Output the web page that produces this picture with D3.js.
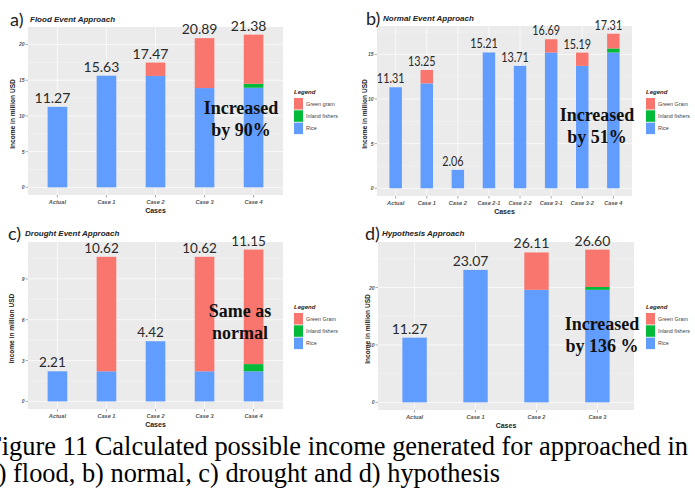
<!DOCTYPE html>
<html>
<head>
<meta charset="utf-8">
<script src="https://cdn.jsdelivr.net/npm/d3@7"></script>
<style>
body { margin: 0; background: #fff; }
svg { display: block; }
</style>
</head>
<body>
<div id="chart"></div>
<script>
(function () {

// ---- data ----
var layers = ['Rice', 'Inland fishers', 'Green gram'];

var floodCases = ['Actual', 'Case 1', 'Case 2', 'Case 3', 'Case 4'];
var floodRice  = [11.27, 15.63, 15.60, 13.90, 13.95];
var floodFish  = [0, 0, 0, 0, 0.55];
var floodGram  = [0, 0, 1.87, 6.99, 6.88];
var floodTicks = [0, 5, 10, 15, 20];

var normalCases = ['Actual', 'Case 1', 'Case 2', 'Case 2-1', 'Case 2-2', 'Case 3-1', 'Case 3-2', 'Case 4'];
var normalRice  = [11.31, 11.75, 2.06, 15.21, 13.71, 15.21, 13.71, 15.21];
var normalFish  = [0, 0, 0, 0, 0, 0, 0, 0.45];
var normalGram  = [0, 1.50, 0, 0, 0, 1.48, 1.48, 1.65];
var normalTicks = [0, 5, 10, 15];

var droughtCases = ['Actual', 'Case 1', 'Case 2', 'Case 3', 'Case 4'];
var droughtRice  = [2.21, 2.21, 4.42, 2.21, 2.21];
var droughtFish  = [0, 0, 0, 0, 0.53];
var droughtGram  = [0, 8.41, 0, 8.41, 8.41];
var droughtTicks = [0, 3, 6, 9];

var hypoCases = ['Actual', 'Case 1', 'Case 2', 'Case 3'];
var hypoRice  = [11.27, 23.07, 19.60, 19.60];
var hypoFish  = [0, 0, 0, 0.49];
var hypoGram  = [0, 0, 6.51, 6.51];
var hypoTicks = [0, 10, 20];

var colors = {'Rice': '#619CFF', 'Inland fishers': '#00BA38', 'Green gram': '#F8766D'};
var fmt = d3.format('.2f');

// layout of the four panels (positions only)
var panels = [
  {tag: 'a)', title: 'Flood Event Approach', cases: floodCases, rice: floodRice, fish: floodFish, gram: floodGram,
   ticks: floodTicks, keys: ['Green gram', 'Inland fishers', 'Rice'], note: ['Increased', 'by 90%'],
   x0: 28, x1: 283, y0: 27, y1: 195, tagX: 10, titleX: 30, titleY: 22, ytX: 15,
   legX: 294, legY: 94, noteX: 241, noteY: 114, labSize: 14, labSX: 1},
  {tag: 'b)', title: 'Normal Event Approach', cases: normalCases, rice: normalRice, fish: normalFish, gram: normalGram,
   ticks: normalTicks, keys: ['Green Gram', 'Inland fishers', 'Rice'], note: ['Increased', 'by 51%'],
   x0: 377, x1: 632, y0: 26, y1: 196, tagX: 366, titleX: 383, titleY: 21, ytX: 367,
   legX: 646, legY: 94, noteX: 597, noteY: 121, labSize: 13.5, labSX: 0.8},
  {tag: 'c)', title: 'Drought Event Approach', cases: droughtCases, rice: droughtRice, fish: droughtFish, gram: droughtGram,
   ticks: droughtTicks, keys: ['Green Gram', 'Inland fishers', 'Rice'], note: ['Same as', 'normal'],
   x0: 28, x1: 283, y0: 242, y1: 409, tagX: 8, titleX: 25, titleY: 236, ytX: 14,
   legX: 294, legY: 309, noteX: 240, noteY: 317, labSize: 13.5, labSX: 1},
  {tag: 'd)', title: 'Hypothesis Approach', cases: hypoCases, rice: hypoRice, fish: hypoFish, gram: hypoGram,
   ticks: hypoTicks, keys: ['Green Gram', 'Inland fishers', 'Rice'], note: ['Increased', 'by 136 %'],
   x0: 378, x1: 634, y0: 242, y1: 410, tagX: 365, titleX: 382, titleY: 236, ytX: 370,
   legX: 646, legY: 309, noteX: 602, noteY: 330, labSize: 14, labSX: 1}
];

var svg = d3.select('#chart').append('svg')
    .attr('width', 695)
    .attr('height', 488);

panels.forEach(drawPanel);

function drawPanel (p) {

  var rows = p.cases.map(function (c, i) {
    return {case: c, 'Rice': p.rice[i], 'Inland fishers': p.fish[i], 'Green gram': p.gram[i]};
  });
  var totals = rows.map(function (r) { return r['Rice'] + r['Inland fishers'] + r['Green gram']; });
  var maxV = d3.max(totals);

  var x = d3.scalePoint()
      .domain(p.cases)
      .range([p.x0, p.x1])
      .padding(0.6);
  var bw = x.step() * 0.4;

  // ggplot style 5% expansion
  var y = d3.scaleLinear()
      .domain([-0.05 * maxV, 1.05 * maxV])
      .range([p.y1, p.y0]);

  var g = svg.append('g');

  g.append('rect')
      .attr('x', p.x0).attr('y', p.y0)
      .attr('width', p.x1 - p.x0).attr('height', p.y1 - p.y0)
      .attr('fill', '#ebebeb');

  // minor grid
  var step = p.ticks[1] - p.ticks[0];
  var minor = d3.range(p.ticks[0] + step / 2, y.domain()[1], step);
  g.selectAll('.minor').data(minor).enter().append('line')
      .attr('x1', p.x0).attr('x2', p.x1)
      .attr('y1', y).attr('y2', y)
      .attr('stroke', '#f7f7f7').attr('stroke-width', 0.5);

  g.selectAll('.hmajor').data(p.ticks).enter().append('line')
      .attr('x1', p.x0).attr('x2', p.x1)
      .attr('y1', y).attr('y2', y)
      .attr('stroke', '#fafafa').attr('stroke-width', 0.9);

  g.selectAll('.vmajor').data(p.cases).enter().append('line')
      .attr('x1', x).attr('x2', x)
      .attr('y1', p.y0).attr('y2', p.y1)
      .attr('stroke', '#fafafa').attr('stroke-width', 0.9);

  var stacked = d3.stack().keys(layers)(rows);

  g.selectAll('.layer').data(stacked).enter().append('g')
      .attr('fill', function (d) { return colors[d.key]; })
    .selectAll('rect').data(function (d) { return d; }).enter().append('rect')
      .attr('x', function (d) { return x(d.data.case) - bw / 2; })
      .attr('width', bw)
      .attr('y', function (d) { return y(d[1]); })
      .attr('height', function (d) { return y(d[0]) - y(d[1]); });

  // value labels over the bars
  g.selectAll('.val').data(p.cases).enter().append('text')
      .attr('transform', function (d, i) {
        return 'translate(' + (x(d) - 5) + ',' + (y(totals[i]) - 4) + ') scale(' + p.labSX + ',1)';
      })
      .attr('text-anchor', 'middle')
      .style('font', p.labSize + 'px Lato, sans-serif')
      .attr('fill', '#2a2a2a')
      .text(function (d, i) { return fmt(totals[i]); });

  // y axis
  g.selectAll('.ytick').data(p.ticks).enter().append('line')
      .attr('x1', p.x0 - 2.5).attr('x2', p.x0)
      .attr('y1', y).attr('y2', y)
      .attr('stroke', '#555').attr('stroke-width', 0.5);
  g.selectAll('.ylab').data(p.ticks).enter().append('text')
      .attr('x', p.x0 - 3.5).attr('y', function (d) { return y(d) + 2; })
      .attr('text-anchor', 'end')
      .style('font', 'italic bold 5px "Liberation Sans", Arial, sans-serif')
      .attr('fill', '#555')
      .text(function (d) { return d; });

  g.append('text')
      .attr('transform', 'translate(' + p.ytX + ',' + ((p.y0 + p.y1) / 2 + 3) + ') rotate(-90)')
      .attr('text-anchor', 'middle')
      .style('font', 'bold 6.6px "Liberation Sans", Arial, sans-serif')
      .attr('fill', '#222')
      .text('Income in million USD');

  // x axis
  g.selectAll('.xtick').data(p.cases).enter().append('line')
      .attr('x1', x).attr('x2', x)
      .attr('y1', p.y1).attr('y2', p.y1 + 2.5)
      .attr('stroke', '#555').attr('stroke-width', 0.5);
  g.selectAll('.xlab').data(p.cases).enter().append('text')
      .attr('x', x).attr('y', p.y1 + 9)
      .attr('text-anchor', 'middle')
      .style('font', 'italic bold 5.6px "Liberation Sans", Arial, sans-serif')
      .attr('fill', '#555')
      .text(function (d) { return d; });
  g.append('text')
      .attr('x', (p.x0 + p.x1) / 2).attr('y', p.y1 + 18)
      .attr('text-anchor', 'middle')
      .style('font', 'bold 7px "Liberation Sans", Arial, sans-serif')
      .attr('fill', '#222')
      .text('Cases');

  // panel title
  g.append('text')
      .attr('x', p.tagX).attr('y', p.titleY + 4)
      .style('font', '18px Lato, sans-serif')
      .attr('fill', '#222')
      .text(p.tag);
  g.append('text')
      .attr('x', p.titleX).attr('y', p.titleY)
      .style('font', 'italic bold 8px "Liberation Sans", Arial, sans-serif')
      .attr('fill', '#222')
      .text(p.title);

  // legend
  var leg = g.append('g').attr('transform', 'translate(' + p.legX + ',' + p.legY + ')');
  leg.append('text')
      .style('font', 'italic bold 6px "Liberation Sans", Arial, sans-serif')
      .attr('fill', '#222')
      .text('Legend');
  var keyColors = [colors['Green gram'], colors['Inland fishers'], colors['Rice']];
  var items = leg.selectAll('.key').data(p.keys).enter().append('g')
      .attr('transform', function (d, i) { return 'translate(0,' + (4 + i * 12.3) + ')'; });
  items.append('rect')
      .attr('width', 9).attr('height', 11.5)
      .attr('fill', function (d, i) { return keyColors[i]; });
  items.append('text')
      .attr('x', 12).attr('y', 7.8)
      .style('font', '5.4px "Liberation Sans", Arial, sans-serif')
      .attr('fill', '#444')
      .text(function (d) { return d; });

  // annotation
  g.selectAll('.note').data(p.note).enter().append('text')
      .attr('x', p.noteX).attr('y', function (d, i) { return p.noteY + i * 21.5; })
      .attr('text-anchor', 'middle')
      .style('font', 'bold 18px "Liberation Serif", "Times New Roman", serif')
      .attr('fill', '#111')
      .text(function (d) { return d; });
}

// caption, cut at the left edge like the original crop
var caption = [
  'Figure 11 Calculated possible income generated for approached in',
  'a) flood, b) normal, c) drought and d) hypothesis'
];
svg.append('text')
    .attr('x', -13).attr('y', 455)
    .attr('textLength', 701).attr('lengthAdjust', 'spacingAndGlyphs')
    .style('font', '27px "Liberation Serif", "Times New Roman", serif')
    .attr('fill', '#000')
    .text(caption[0]);
svg.append('text')
    .attr('x', -14).attr('y', 482)
    .attr('textLength', 514).attr('lengthAdjust', 'spacingAndGlyphs')
    .style('font', '27px "Liberation Serif", "Times New Roman", serif')
    .attr('fill', '#000')
    .text(caption[1]);

}).call(this);
</script>
</body>
</html>
